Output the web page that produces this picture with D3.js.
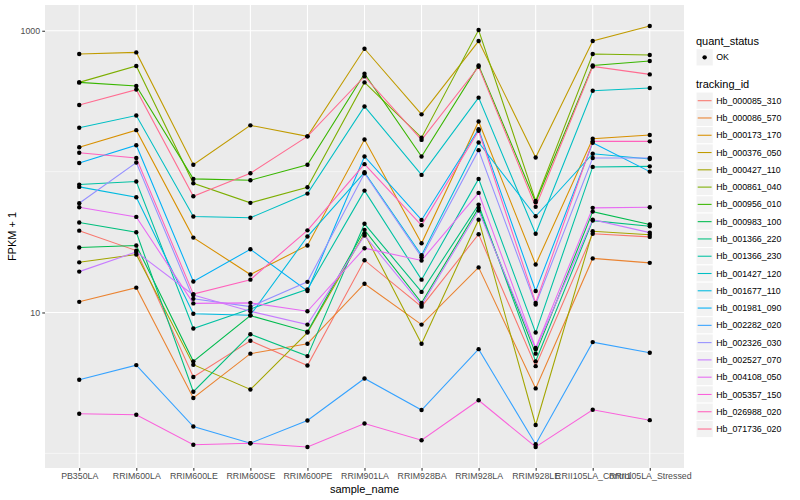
<!DOCTYPE html>
<html>
<head>
<meta charset="utf-8">
<script src="https://cdn.jsdelivr.net/npm/d3@7"></script>
<style>
  body { margin: 0; background: #fff; }
  svg text { font-family: "Liberation Sans", Arial, Helvetica, sans-serif; }
</style>
</head>
<body>
<svg id="chart" width="800" height="500"></svg>
<script>
const samples = ["PB350LA", "RRIM600LA", "RRIM600LE", "RRIM600SE", "RRIM600PE", "RRIM901LA",
  "RRIM928BA", "RRIM928LA", "RRIM928LE", "RRII105LA_Control", "RRII105LA_Stressed"]

const trackingIds = ["Hb_000085_310", "Hb_000086_570", "Hb_000173_170", "Hb_000376_050", "Hb_000427_110",
  "Hb_000861_040", "Hb_000956_010", "Hb_000983_100", "Hb_001366_220", "Hb_001366_230",
  "Hb_001427_120", "Hb_001677_110", "Hb_001981_090", "Hb_002282_020", "Hb_002326_030",
  "Hb_002527_070", "Hb_004108_050", "Hb_005357_150", "Hb_026988_020", "Hb_071736_020"]

// FPKM + 1, one array per gene, same order as samples
const hb_000085_310 = [38.1, 27.5, 3.48, 6.3, 4.2, 23.5, 11.0, 35.9, 4.16, 36.2, 34.4]
const hb_000086_570 = [11.9, 15.0, 2.47, 5.1, 6.0, 16.0, 8.2, 20.9, 2.89, 24.2, 22.5]
const hb_000173_170 = [149, 197, 34, 18.6, 29.9, 169, 31, 227, 21.9, 171, 182]
const hb_000376_050 = [684, 702, 112, 213, 178, 745, 255, 845, 126, 845, 1080]
const hb_000427_110 = [22.7, 25.8, 4.26, 2.84, 7.2, 36.3, 6.0, 45.6, 1.59, 37.7, 35.6]
const hb_000861_040 = [430, 562, 82.6, 60, 77.4, 430, 174, 1012, 62, 684, 673]
const hb_000956_010 = [430, 405, 88.8, 86.8, 112, 495, 128, 567, 60.6, 567, 610]
const hb_000983_100 = [28.9, 29.9, 4.5, 9.5, 7.3, 38.6, 11.7, 55.3, 5.1, 52, 42.1]
const hb_001366_220 = [43.5, 37.1, 2.74, 7.0, 4.9, 42.6, 14.0, 58.3, 4.5, 44.9, 40.9]
const hb_001366_230 = [80.9, 85, 7.7, 10.6, 14.6, 73.3, 17.1, 88.8, 7.2, 108, 109]
const hb_001427_120 = [205, 250, 48, 47, 69.8, 290, 94.8, 335, 36.2, 375, 392]
const hb_001677_110 = [77.9, 65.7, 9.8, 9.57, 34.6, 98.9, 25.5, 161, 48.2, 134, 123]
const hb_001981_090 = [115, 154, 16.6, 28.1, 14.2, 128, 45.4, 200, 14.2, 160, 100]
const hb_002282_020 = [3.33, 4.23, 1.55, 1.18, 1.71, 3.40, 2.03, 5.49, 1.16, 6.16, 5.18]
const hb_002326_030 = [59.6, 116, 12.5, 11.0, 16.5, 97.3, 24.7, 142, 11.4, 125, 125]
const hb_002527_070 = [19.5, 26.9, 13.3, 10.2, 8.2, 35.2, 11.3, 52.9, 5.5, 45.6, 36.9]
const hb_004108_050 = [55.8, 47.7, 11.6, 11.7, 10.2, 28.6, 23.4, 70.6, 5.6, 55.3, 55.8]
const hb_005357_150 = [1.91, 1.88, 1.15, 1.18, 1.11, 1.63, 1.24, 2.38, 1.11, 2.04, 1.72]
const hb_026988_020 = [136, 125, 13.5, 17.1, 38.3, 113, 41.6, 195, 11.7, 164, 164]
const hb_071736_020 = [297, 382, 66.8, 97.3, 178, 474, 168, 555, 56.2, 558, 490]

const seriesValues = [hb_000085_310, hb_000086_570, hb_000173_170, hb_000376_050, hb_000427_110,
  hb_000861_040, hb_000956_010, hb_000983_100, hb_001366_220, hb_001366_230,
  hb_001427_120, hb_001677_110, hb_001981_090, hb_002282_020, hb_002326_030,
  hb_002527_070, hb_004108_050, hb_005357_150, hb_026988_020, hb_071736_020]

const majorTicks = [10, 1000]
const minorTicks = [1, 100]

// ggplot hue palette, 20 levels
const hueColors = ["#F8766D", "#EA8331", "#D89000", "#C09B00", "#A3A500", "#7CAE00", "#39B600", "#00BB4E",
  "#00BF7D", "#00C1A3", "#00BFC4", "#00BAE0", "#00B0F6", "#35A2FF", "#9590FF", "#C77CFF",
  "#E76BF3", "#FA62DB", "#FF62BC", "#FF6C91"]

const panel = { left: 45, right: 684, top: 5, bottom: 468 }
const svg = d3.select("#chart")

function drawChart() {
    const x = d3.scalePoint().domain(samples).range([panel.left, panel.right]).padding(0.6)

    // log scale with 5% expansion in log space like ggplot
    const ext = d3.extent(seriesValues.flat()).map(Math.log10)
    const pad = (ext[1] - ext[0]) * 0.05
    const y = d3.scaleLog().domain([10 ** (ext[0] - pad), 10 ** (ext[1] + pad)]).range([panel.bottom, panel.top])

    svg.append("rect")
        .attr("x", panel.left).attr("y", panel.top)
        .attr("width", panel.right - panel.left).attr("height", panel.bottom - panel.top)
        .attr("fill", "#EBEBEB")

    minorTicks.forEach(t => {
        svg.append("line")
            .attr("x1", panel.left).attr("x2", panel.right).attr("y1", y(t)).attr("y2", y(t))
            .attr("stroke", "#fff").attr("stroke-width", 0.53)
    })
    majorTicks.forEach(t => {
        svg.append("line")
            .attr("x1", panel.left).attr("x2", panel.right).attr("y1", y(t)).attr("y2", y(t))
            .attr("stroke", "#fff").attr("stroke-width", 1.07)
    })
    samples.forEach(s => {
        svg.append("line")
            .attr("x1", x(s)).attr("x2", x(s)).attr("y1", panel.top).attr("y2", panel.bottom)
            .attr("stroke", "#fff").attr("stroke-width", 1.07)
    })

    const line = d3.line().x((d, i) => x(samples[i])).y(d => y(d))
    seriesValues.forEach((vals, k) => {
        svg.append("path")
            .attr("d", line(vals))
            .attr("fill", "none").attr("stroke", hueColors[k]).attr("stroke-width", 1.07)
    })
    seriesValues.forEach(vals => {
        vals.forEach((v, i) => {
            svg.append("circle")
                .attr("cx", x(samples[i])).attr("cy", y(v)).attr("r", 2.2)
                .attr("fill", "#000")
        })
    })

    // axes
    const yAxis = svg.append("g")
        .attr("transform", `translate(${panel.left},0)`)
        .call(d3.axisLeft(y).tickValues(majorTicks).tickFormat(d3.format("d")).tickSize(2.75).tickPadding(2.2))
    const xAxis = svg.append("g")
        .attr("transform", `translate(0,${panel.bottom})`)
        .call(d3.axisBottom(x).tickSize(2.75).tickPadding(2.2))
    ;[yAxis, xAxis].forEach(g => {
        g.select(".domain").remove()
        g.selectAll(".tick line").attr("stroke", "#333333").attr("stroke-width", 1.07)
        g.selectAll(".tick text").attr("fill", "#4D4D4D").attr("font-size", 8.8)
            .attr("font-family", "Liberation Sans, Arial, sans-serif")
    })

    svg.append("text")
        .attr("x", (panel.left + panel.right) / 2).attr("y", 493)
        .attr("text-anchor", "middle").attr("font-size", 11).text("sample_name")
    svg.append("text")
        .attr("transform", `translate(16,${(panel.top + panel.bottom) / 2}) rotate(-90)`)
        .attr("text-anchor", "middle").attr("font-size", 11).text("FPKM + 1")

    drawLegend()
}

function drawLegend() {
    const lx = 696, key = 17.28
    svg.append("text").attr("x", lx).attr("y", 44.5).attr("font-size", 11).text("quant_status")
    svg.append("rect").attr("x", lx).attr("y", 48.7).attr("width", key).attr("height", key)
        .attr("fill", "#F2F2F2").attr("stroke", "#fff")
    svg.append("circle").attr("cx", lx + key / 2).attr("cy", 48.7 + key / 2).attr("r", 2.2).attr("fill", "#000")
    svg.append("text").attr("x", lx + key + 3).attr("y", 48.7 + key / 2 + 3.1).attr("font-size", 8.8).text("OK")

    svg.append("text").attr("x", lx).attr("y", 88).attr("font-size", 11).text("tracking_id")
    trackingIds.forEach((id, i) => {
        const cy = 100.7 + i * key
        svg.append("rect").attr("x", lx).attr("y", cy - key / 2).attr("width", key).attr("height", key)
            .attr("fill", "#F2F2F2").attr("stroke", "#fff")
        svg.append("line").attr("x1", lx + 1.7).attr("x2", lx + key - 1.7).attr("y1", cy).attr("y2", cy)
            .attr("stroke", hueColors[i]).attr("stroke-width", 1.07)
        svg.append("text").attr("x", lx + key + 3).attr("y", cy + 3.1).attr("font-size", 8.8).text(id)
    })
}

drawChart()
</script>
</body>
</html>
